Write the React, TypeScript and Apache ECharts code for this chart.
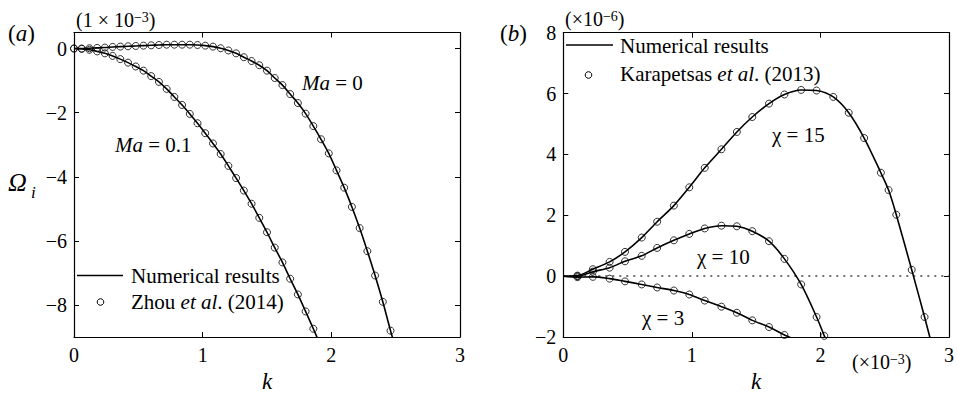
import React, { useEffect, useRef } from 'react';
import * as echarts from 'echarts';

const FONT = 'Liberation Serif';

// ---------- Panel (a) ----------
const kMa0 = [0, 0.06, 0.12, 0.18, 0.24, 0.3, 0.36, 0.42, 0.48, 0.54, 0.6, 0.66, 0.72, 0.78, 0.84, 0.9, 0.96, 1.02, 1.08, 1.14, 1.2, 1.26, 1.32, 1.38, 1.44, 1.5, 1.56, 1.62, 1.68, 1.74, 1.8, 1.86, 1.92, 1.98, 2.04, 2.1, 2.16, 2.22, 2.28, 2.34, 2.4, 2.46];
const omegaMa0 = [0, 0, 0.01, 0.02, 0.03, 0.05, 0.06, 0.07, 0.08, 0.09, 0.1, 0.11, 0.12, 0.12, 0.12, 0.12, 0.11, 0.09, 0.06, 0.01, -0.06, -0.15, -0.27, -0.39, -0.52, -0.69, -0.92, -1.14, -1.42, -1.7, -2.03, -2.42, -2.83, -3.27, -3.8, -4.34, -4.94, -5.6, -6.32, -7.08, -7.9, -8.8];
const kMa01 = [0, 0.06, 0.12, 0.18, 0.24, 0.3, 0.36, 0.42, 0.48, 0.54, 0.6, 0.66, 0.72, 0.78, 0.84, 0.9, 0.96, 1.02, 1.08, 1.14, 1.2, 1.26, 1.32, 1.38, 1.44, 1.5, 1.56, 1.62, 1.68, 1.74, 1.8, 1.86];
const omegaMa01 = [0, -0.01, -0.04, -0.09, -0.15, -0.23, -0.33, -0.44, -0.56, -0.69, -0.86, -1.04, -1.26, -1.51, -1.76, -2.04, -2.33, -2.64, -2.96, -3.29, -3.66, -4.04, -4.43, -4.84, -5.28, -5.73, -6.21, -6.67, -7.18, -7.67, -8.2, -8.74];
const ma0LineTail = [2.5, -9.35];
const ma01LineTail = [1.91, -9.2];
const yTicksA = [-8, -6, -4, -2, 0];

// ---------- Panel (b) ----------
const kChi15 = [0.11, 0.23, 0.36, 0.48, 0.61, 0.73, 0.86, 0.98, 1.1, 1.23, 1.35, 1.47, 1.6, 1.72, 1.85, 1.97, 2.1, 2.22, 2.34, 2.47, 2.53, 2.59, 2.71, 2.81];
const omegaChi15 = [0.02, 0.23, 0.47, 0.8, 1.27, 1.79, 2.32, 2.92, 3.56, 4.17, 4.74, 5.23, 5.67, 5.97, 6.12, 6.1, 5.89, 5.37, 4.54, 3.4, 2.83, 2.02, 0.21, -1.34];
const kChi10 = [0.11, 0.23, 0.36, 0.48, 0.61, 0.73, 0.86, 0.98, 1.1, 1.23, 1.35, 1.47, 1.6, 1.72, 1.85, 1.97, 2.03];
const omegaChi10 = [0.0, 0.15, 0.28, 0.49, 0.67, 0.93, 1.18, 1.39, 1.57, 1.66, 1.64, 1.48, 1.15, 0.57, -0.27, -1.34, -1.96];
const kChi3 = [0.11, 0.23, 0.36, 0.48, 0.61, 0.73, 0.86, 0.98, 1.1, 1.23, 1.35, 1.47, 1.6, 1.72];
const omegaChi3 = [-0.03, -0.02, -0.08, -0.17, -0.27, -0.37, -0.47, -0.6, -0.8, -1.0, -1.2, -1.45, -1.67, -1.93];
const originPoint = [0, 0];
const chi15LineTail = [2.86, -2.15];
const chi10LineTail = [2.05, -2.2];
const chi3LineTail = [1.79, -2.06];

const zip = (xs: number[], ys: number[]) => xs.map((x, i) => [x, ys[i]]);
const minusFmt = (v: number) => (v < 0 ? '\u2212' + Math.abs(v) : String(v));

const lineSeries = (xi: number, yi: number, data: number[][], extra: any = {}) => ({
  type: 'line',
  xAxisIndex: xi,
  yAxisIndex: yi,
  data,
  symbol: 'none',
  showSymbol: false,
  smooth: 0.3,
  silent: true,
  lineStyle: { color: '#000', width: 1.6 },
  z: 2,
  ...extra,
});

const scatterSeries = (xi: number, yi: number, data: number[][]) => ({
  type: 'scatter',
  xAxisIndex: xi,
  yAxisIndex: yi,
  data,
  symbol: 'circle',
  symbolSize: 7,
  silent: true,
  itemStyle: { color: 'rgba(0,0,0,0)', borderColor: '#000', borderWidth: 1 },
  z: 3,
});

const xAxisDef = (gridIndex: number, position: string, showLabels: boolean, name?: string) => ({
  type: 'value',
  gridIndex,
  position,
  min: 0,
  max: 3,
  interval: 1,
  name: name || '',
  nameLocation: 'middle',
  nameGap: 32,
  nameTextStyle: { fontFamily: FONT, fontSize: 23, fontStyle: 'italic', color: '#000' },
  axisLine: { show: true, onZero: false, lineStyle: { color: '#000', width: 1.2 } },
  axisTick: { show: true, inside: true, length: 5, lineStyle: { color: '#000', width: 1 } },
  axisLabel: { show: showLabels, color: '#000', fontFamily: FONT, fontSize: 20, margin: 8, formatter: minusFmt },
  splitLine: { show: false },
});

const yAxisDef = (gridIndex: number, position: string, showLabels: boolean, range: any) => ({
  type: 'value',
  gridIndex,
  position,
  min: range.min,
  max: range.max,
  interval: range.interval,
  axisLine: { show: true, onZero: false, lineStyle: { color: '#000', width: 1.2 } },
  axisTick: { show: true, inside: true, length: 5, lineStyle: { color: '#000', width: 1 }, ...(range.customValues ? { customValues: range.customValues } : {}) },
  axisLabel: { show: showLabels, color: '#000', fontFamily: FONT, fontSize: 20, margin: 7, formatter: minusFmt, ...(range.customValues ? { customValues: range.customValues } : {}) },
  splitLine: { show: false },
});

const txt = (x: number, y: number, text: string, size: number, rich?: any) => ({
  type: 'text',
  x,
  y,
  silent: true,
  style: {
    text,
    fill: '#000',
    fontFamily: FONT,
    fontSize: size,
    align: 'left',
    verticalAlign: 'middle',
    rich,
  },
});

const richBase = (size: number) => ({
  n: { fontFamily: FONT, fontSize: size, color: '#000' },
  i: { fontFamily: FONT, fontSize: size, fontStyle: 'italic', color: '#000' },
  sup: { fontFamily: FONT, fontSize: Math.round(size * 0.68), color: '#000', verticalAlign: 'top' },
});

const buildOption = (): any => ({
  animation: false,
  grid: [
    { left: 74, top: 32.5, width: 386, height: 311 },
    { left: 563.3, top: 32.7, width: 386.7, height: 311.3 },
  ],
  xAxis: [
    xAxisDef(0, 'bottom', true, 'k'),
    xAxisDef(0, 'top', false),
    xAxisDef(1, 'bottom', true, 'k'),
    xAxisDef(1, 'top', false),
  ],
  yAxis: [
    yAxisDef(0, 'left', true, { min: -9, max: 0.5, customValues: yTicksA }),
    yAxisDef(0, 'right', false, { min: -9, max: 0.5, customValues: yTicksA }),
    yAxisDef(1, 'left', true, { min: -2, max: 8, interval: 2 }),
    yAxisDef(1, 'right', false, { min: -2, max: 8, interval: 2 }),
  ],
  series: [
    lineSeries(0, 0, [...zip(kMa0, omegaMa0), ma0LineTail]),
    scatterSeries(0, 0, zip(kMa0, omegaMa0)),
    lineSeries(0, 0, [...zip(kMa01, omegaMa01), ma01LineTail]),
    scatterSeries(0, 0, zip(kMa01, omegaMa01)),
    lineSeries(2, 2, [originPoint, ...zip(kChi15, omegaChi15), chi15LineTail]),
    scatterSeries(2, 2, zip(kChi15, omegaChi15)),
    lineSeries(2, 2, [originPoint, ...zip(kChi10, omegaChi10), chi10LineTail]),
    scatterSeries(2, 2, zip(kChi10, omegaChi10)),
    lineSeries(2, 2, [originPoint, ...zip(kChi3, omegaChi3), chi3LineTail], {
      markLine: {
        silent: true,
        symbol: ['none', 'none'],
        label: { show: false },
        lineStyle: { type: [2, 5], color: '#444', width: 1.5 },
        data: [{ yAxis: 0 }],
        z: 1,
      },
    }),
    scatterSeries(2, 2, zip(kChi3, omegaChi3)),
  ],
  graphic: [
    // panel (a) labels
    txt(8, 33, '{n|(}{i|a}{n|)}', 23, richBase(23)),
    txt(76, 20, '{n|(1 × 10}{sup|\u22123}{n|)}', 20, richBase(20)),
    txt(8, 182, '{i|\u03A9}', 26, richBase(26)),
    txt(31, 192, '{i|i}', 17, richBase(17)),
    txt(302, 83, '{i|Ma}{n| = 0}', 21, richBase(21)),
    txt(115, 145, '{i|Ma}{n| = 0.1}', 21, richBase(21)),
    // legend (a)
    { type: 'line', silent: true, shape: { x1: 77, y1: 275.5, x2: 123, y2: 275.5 }, style: { stroke: '#000', lineWidth: 1.6 } },
    txt(131, 275.5, '{n|Numerical results}', 21, richBase(21)),
    { type: 'circle', silent: true, shape: { cx: 100.5, cy: 302, r: 3.3 }, style: { fill: 'none', stroke: '#000', lineWidth: 1 } },
    txt(131, 301.5, '{n|Zhou }{i|et al}{n|. (2014)}', 21, richBase(21)),
    // panel (b) labels
    txt(500, 33, '{n|(}{i|b}{n|)}', 23, richBase(23)),
    txt(565, 19, '{n|(×10}{sup|\u22126}{n|)}', 20, richBase(20)),
    txt(852, 362, '{n|(×10}{sup|\u22123}{n|)}', 20, richBase(20)),
    txt(772, 135, '{n|\u03C7 = 15}', 21, richBase(21)),
    txt(697, 257, '{n|\u03C7 = 10}', 21, richBase(21)),
    txt(642, 318, '{n|\u03C7 = 3}', 21, richBase(21)),
    // legend (b)
    { type: 'line', silent: true, shape: { x1: 566, y1: 45, x2: 613, y2: 45 }, style: { stroke: '#000', lineWidth: 1.6 } },
    txt(620, 46, '{n|Numerical results}', 21, richBase(21)),
    { type: 'circle', silent: true, shape: { cx: 588.5, cy: 75, r: 3.3 }, style: { fill: 'none', stroke: '#000', lineWidth: 1 } },
    txt(620, 74, '{n|Karapetsas }{i|et al}{n|. (2013)}', 21, richBase(21)),
  ],
});

export default function App() {
  const ref = useRef<HTMLDivElement>(null);
  useEffect(() => {
    if (!ref.current) return;
    let disposed = false;
    const chart = echarts.init(ref.current, undefined, { renderer: 'svg' });
    chart.setOption(buildOption());
    const fontsApi: any = (document as any).fonts;
    if (fontsApi && fontsApi.load) {
      Promise.all([
        fontsApi.load('20px "Liberation Serif"'),
        fontsApi.load('italic 20px "Liberation Serif"'),
      ])
        .catch(() => null)
        .then(() => {
          if (!disposed) chart.setOption(buildOption(), true);
        });
    }
    return () => {
      disposed = true;
      chart.dispose();
    };
  }, []);
  return (
    <div>
      <style>{`#figchart text, #figchart tspan { font-family: "Liberation Serif" !important; }`}</style>
      <div
        id="figchart"
        ref={ref}
        style={{ position: 'absolute', left: 0, top: 0, width: 957, height: 398, background: '#fff', fontFamily: FONT }}
      />
    </div>
  );
}
